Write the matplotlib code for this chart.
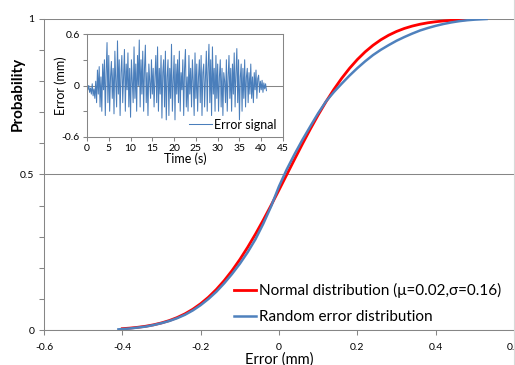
import numpy as np
import matplotlib
matplotlib.use("Agg")
import matplotlib.pyplot as plt
from matplotlib.lines import Line2D

plt.rcParams['font.family'] = ['Lato', 'DejaVu Sans']

# CDF curves (error in mm, cumulative probability)
normal_x = [-0.40, -0.38, -0.36, -0.34, -0.32, -0.30, -0.28, -0.26, -0.24, -0.22,
            -0.20, -0.18, -0.16, -0.14, -0.12, -0.10, -0.08, -0.06, -0.04, -0.02,
            0.00, 0.02, 0.04, 0.06, 0.08, 0.10, 0.12, 0.14, 0.16, 0.18,
            0.20, 0.22, 0.24, 0.26, 0.28, 0.30, 0.32, 0.34, 0.36, 0.38,
            0.40, 0.42, 0.44, 0.46, 0.48]
normal_p = [0.0043, 0.0062, 0.0088, 0.0122, 0.0168, 0.0228, 0.0304, 0.0401, 0.0521, 0.0668,
            0.0846, 0.1056, 0.1303, 0.1587, 0.1908, 0.2266, 0.2660, 0.3085, 0.3538, 0.4013,
            0.4503, 0.5000, 0.5497, 0.5987, 0.6462, 0.6915, 0.7340, 0.7734, 0.8092, 0.8413,
            0.8697, 0.8944, 0.9154, 0.9332, 0.9479, 0.9599, 0.9696, 0.9772, 0.9832, 0.9878,
            0.9912, 0.9938, 0.9957, 0.9970, 0.9980]

random_x = [-0.41, -0.40, -0.38, -0.36, -0.34, -0.32, -0.30, -0.28, -0.26, -0.24,
            -0.22, -0.20, -0.18, -0.16, -0.14, -0.12, -0.10, -0.08, -0.06, -0.04,
            -0.02, 0.00, 0.02, 0.04, 0.06, 0.08, 0.10, 0.12, 0.14, 0.16,
            0.18, 0.20, 0.22, 0.24, 0.26, 0.28, 0.30, 0.32, 0.34, 0.36,
            0.38, 0.40, 0.42, 0.44, 0.46, 0.48, 0.50, 0.53]
random_p = [0.002, 0.003, 0.005, 0.008, 0.011, 0.016, 0.022, 0.029, 0.038, 0.049,
            0.063, 0.080, 0.100, 0.123, 0.150, 0.180, 0.213, 0.250, 0.292, 0.342,
            0.398, 0.462, 0.517, 0.566, 0.612, 0.655, 0.697, 0.735, 0.765, 0.792,
            0.818, 0.842, 0.864, 0.884, 0.901, 0.916, 0.930, 0.942, 0.953, 0.963,
            0.971, 0.978, 0.984, 0.989, 0.993, 0.996, 0.998, 1.000]

# inset error signal, one sample every 0.2 s
signal_dt = 0.2
signal = [
    -0.02, -0.05, 0.0, -0.08, -0.03, -0.1, 0.02, -0.12, -0.04, -0.15,
    0.05, -0.2, 0.18, -0.1, 0.22, -0.25, 0.1, -0.3, 0.25, -0.05,
    0.3, -0.35, 0.15, 0.5, -0.2, 0.35, -0.3, 0.1, 0.28, -0.15,
    0.2, -0.33, 0.4, 0.05, -0.25, 0.52, -0.1, 0.3, -0.35, 0.15,
    0.35, -0.2, 0.1, 0.42, -0.3, 0.25, -0.05, 0.38, -0.25, 0.2,
    -0.37, 0.3, 0.05, -0.2, 0.45, -0.15, 0.25, -0.3, 0.35, 0.0,
    0.53, -0.25, 0.3, -0.1, 0.4, -0.3, 0.2, 0.47, -0.2, 0.15,
    -0.35, 0.25, 0.05, -0.15, 0.3, -0.1, 0.2, -0.25, 0.1, 0.35,
    -0.2, 0.45, -0.3, 0.2, -0.1, 0.35, -0.38, 0.15, 0.3, -0.25,
    0.4, -0.4, 0.1, 0.3, -0.35, 0.2, -0.15, 0.48, -0.3, 0.05,
    0.35, -0.4, 0.25, -0.1, 0.3, -0.2, 0.4, -0.3, 0.15, -0.05,
    0.3, -0.35, 0.2, 0.42, -0.25, 0.1, -0.3, 0.35, -0.1, 0.2,
    -0.25, 0.3, 0.05, -0.35, 0.38, -0.15, 0.25, -0.3, 0.1, 0.3,
    -0.2, 0.35, -0.35, 0.15, 0.25, -0.25, 0.1, 0.4, -0.3, 0.2,
    0.48, -0.2, 0.3, -0.35, 0.45, -0.1, 0.2, -0.3, 0.35, -0.15,
    0.25, -0.3, 0.1, 0.3, -0.25, 0.2, -0.35, 0.15, 0.05, -0.2,
    0.3, -0.3, 0.1, 0.35, -0.15, 0.2, -0.3, 0.25, -0.1, 0.38,
    -0.25, 0.15, 0.43, -0.2, 0.3, -0.4, 0.1, 0.25, -0.3, 0.2,
    -0.15, 0.3, -0.25, 0.1, 0.2, -0.2, 0.15, -0.1, 0.25, -0.15,
    0.1, -0.2, 0.15, -0.05, 0.18, -0.15, 0.08, 0.12, -0.08, 0.05,
    -0.05, 0.06, -0.08, 0.03, -0.04, 0.02, -0.06,
]
signal_t = np.arange(len(signal)) * signal_dt

x_ticks = [-0.6, -0.4, -0.2, 0, 0.2, 0.4, 0.6]
y_ticks = [0, 0.5, 1]
t_ticks = [0, 5, 10, 15, 20, 25, 30, 35, 40, 45]
e_ticks = [-0.6, 0, 0.6]

GRAY = '#868686'

fig = plt.figure(figsize=(5.15, 3.65), dpi=100)

ax = fig.add_axes([44/515, 35/365, 470/515, 311/365])
ax.plot(normal_x, normal_p, color='#ff0000', lw=2.0,
        label='Normal distribution (\u03bc=0.02,\u03c3=0.16)')
ax.plot(random_x, random_p, color='#4f81bd', lw=1.8,
        label='Random error distribution')
ax.set_xlim(-0.6, 0.6)
ax.set_ylim(0, 1)
ax.set_xticks(x_ticks)
ax.set_xticklabels([f'{v:g}' for v in x_ticks])
ax.set_yticks(y_ticks)
ax.set_yticklabels([f'{v:g}' for v in y_ticks])
ax.set_yticks(np.arange(0, 1.01, 0.1), minor=True)
ax.tick_params(which='both', direction='out', color=GRAY, labelsize=7.5,
               labelcolor='black', length=3.5, width=0.75)
ax.tick_params(axis='x', pad=6)
ax.grid(axis='y', which='major', color=GRAY, lw=0.75)
for s in ['top', 'right']:
    ax.spines[s].set_visible(False)
for s in ['left', 'bottom']:
    ax.spines[s].set_color(GRAY)
    ax.spines[s].set_linewidth(0.75)
ax.set_xlabel('Error (mm)', fontsize=10.5, labelpad=0, color='black')
ax.set_ylabel('Probability', fontsize=11, fontweight='bold', color='black')
ax.yaxis.set_label_coords(-0.04, 0.76)
ax.legend(loc='lower right', bbox_to_anchor=(0.985, 0.0), frameon=False,
          fontsize=11, handlelength=1.4, handletextpad=0.2, labelspacing=0.75,
          borderaxespad=0)

# inset
ins = fig.add_axes([87/515, 228/365, 196/515, 103/365])
ins.plot(signal_t, signal, color='#4a7ebb', lw=0.75, label='Error signal')
ins.set_xlim(0, 45)
ins.set_ylim(-0.6, 0.6)
ins.set_xticks(t_ticks)
ins.set_yticks(e_ticks)
ins.set_yticklabels(['-0.6', '0', '0.6'])
ins.set_yticks([-0.3, 0.3], minor=True)
ins.axhline(0, color=GRAY, lw=0.75, zorder=0)
ins.tick_params(which='both', direction='out', color=GRAY, labelsize=7.5,
                length=3, width=0.75, pad=2)
for s in ins.spines.values():
    s.set_color(GRAY)
    s.set_linewidth(0.75)
ins.set_xlabel('Time (s)', fontsize=9, labelpad=0)
ins.set_ylabel('Error (mm)', fontsize=9, labelpad=-4)
ins.legend(loc='lower right', frameon=False, fontsize=9, handlelength=1.8,
           handletextpad=0.2, borderaxespad=0.1)

fig.add_artist(Line2D([0.999, 0.999], [0, 1], color='#d9d9d9', lw=0.8))

fig.savefig('out.png', dpi=100)
